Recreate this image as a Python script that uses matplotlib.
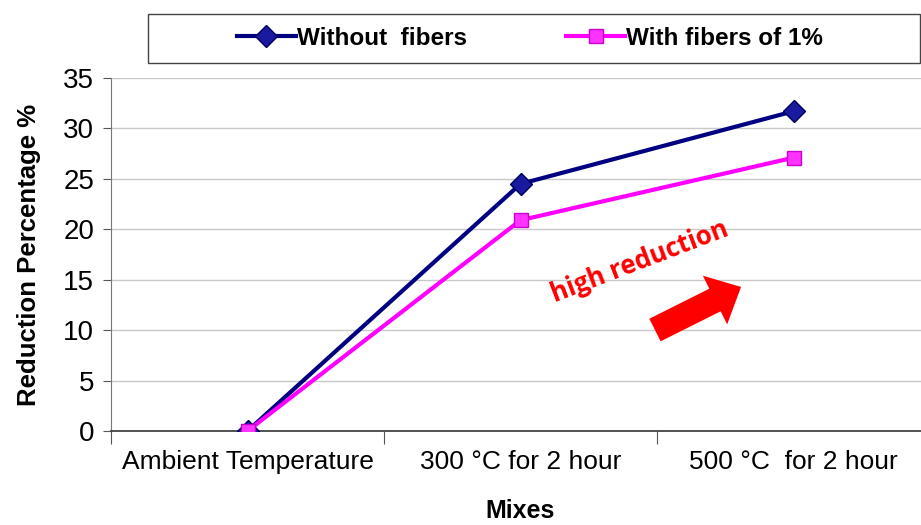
import matplotlib.pyplot as plt
from matplotlib.patches import FancyArrowPatch, Rectangle

mixes = ['Ambient Temperature', '300 °C for 2 hour', '500 °C  for 2 hour']
without_fibers = [0, 24.5, 31.7]
with_fibers = [0, 20.9, 27.1]

plt.rcParams['font.family'] = ['Liberation Sans', 'DejaVu Sans']

fig = plt.figure(figsize=(9.21, 5.25), dpi=100)
ax = fig.add_axes([111 / 921, 1 - 431 / 525, 819 / 921, 353 / 525])

x = range(len(mixes))
ax.plot(x, without_fibers, color='#000080', lw=3, marker='D', ms=11,
        mfc='#1a1aa0', mec='#000060', label='Without  fibers', zorder=3)
ax.plot(x, with_fibers, color='#ff00ff', lw=3, marker='s', ms=10,
        mfc='#ff33ff', mec='#cc00cc', label='With fibers of 1%', zorder=4)

ax.set_xlim(-0.5, 2.5)
ax.set_ylim(0, 35)
ax.set_yticks(range(0, 36, 5))
ax.tick_params(axis='y', labelsize=20, length=6, color='#555555', pad=6)
ax.set_xticks([-0.5, 0.5, 1.5, 2.5])
ax.set_xticklabels([])
ax.set_xticks(list(x), minor=True)
ax.set_xticklabels(mixes, minor=True, fontsize=19)
ax.tick_params(axis='x', which='major', length=9, color='#555555')
ax.tick_params(axis='x', which='minor', length=0, pad=14)
ax.grid(axis='y', color='#c8c8c8', lw=1)
ax.set_axisbelow(True)
for s in ['top', 'right']:
    ax.spines[s].set_visible(False)
ax.spines['left'].set_color('#777777')
ax.spines['bottom'].set_color('#444444')
ax.spines['bottom'].set_linewidth(1.3)

ax.set_ylabel('Reduction Percentage %', fontsize=18.5, fontweight='bold', labelpad=16)
ax.set_xlabel('Mixes', fontsize=18, fontweight='bold', labelpad=18)

# legend box
fig.patches.append(Rectangle((148 / 921, 1 - 63 / 525), 772 / 921, 49 / 525,
                             transform=fig.transFigure, fill=False,
                             edgecolor='#444444', lw=1))
fig.legend(loc='center', bbox_to_anchor=(530 / 921, 1 - 38.5 / 525),
           ncol=2, frameon=False, prop={'weight': 'bold', 'size': 17.5},
           handlelength=2.4, handletextpad=0.05, columnspacing=4.1)

ax.text(0.645, 0.48, 'high reduction', transform=ax.transAxes, rotation=21,
        color='#ff0000', fontsize=18.5, fontweight='bold', family=['Open Sans', 'DejaVu Sans'],
        ha='center', va='center')
ax.add_patch(FancyArrowPatch((0.6642, 0.286), (0.7693, 0.408), transform=ax.transAxes,
                             arrowstyle='simple,head_length=1.5,head_width=2.8,tail_width=1.3',
                             mutation_scale=14, color='#ff0000', lw=0,
                             shrinkA=0, shrinkB=0))

fig.savefig('out.png', dpi=100)
